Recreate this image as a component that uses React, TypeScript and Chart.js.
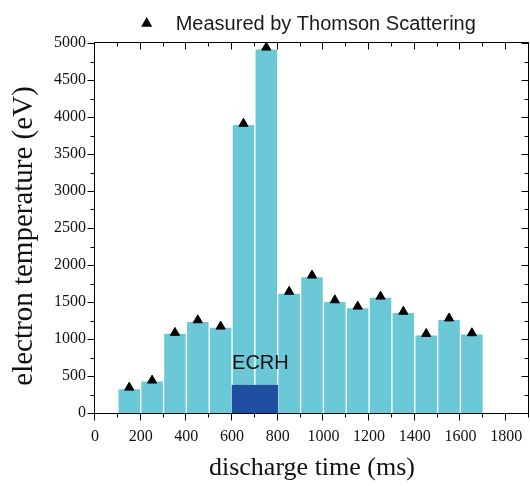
import { useEffect, useRef } from 'react';
import { Chart, registerables } from 'chart.js';

Chart.register(...registerables);

// ---- data ----
const binTimes = [150, 250, 350, 450, 550, 650, 750, 850, 950, 1050, 1150, 1250, 1350, 1450, 1550, 1650];
const binTemps = [330, 435, 1080, 1240, 1160, 3900, 4920, 1620, 1845, 1510, 1425, 1565, 1360, 1055, 1265, 1070];
const thomsonTimes = [150, 250, 350, 450, 550, 650, 750, 850, 950, 1050, 1150, 1250, 1350, 1450, 1550, 1650];
const thomsonTemps = [345, 440, 1085, 1255, 1170, 3910, 4940, 1640, 1860, 1525, 1440, 1575, 1370, 1070, 1280, 1080];
const ecrhTimes = [650, 750];
const ecrhLevel = [375, 375];
const ecrhLabelAt = [600, 600];

const xTickValues = [0, 200, 400, 600, 800, 1000, 1200, 1400, 1600, 1800];
const yTickValues = [0, 500, 1000, 1500, 2000, 2500, 3000, 3500, 4000, 4500, 5000];
const xRange = [0, 1900];
const yRange = [0, 5000];
const xMinorStep = 100;
const yMinorStep = 250;

const legendLabel = 'Measured by Thomson Scattering';
const ecrhLabel = 'ECRH';
const xTitle = 'discharge time (ms)';
const yTitle = 'electron temperature (eV)';

const CYAN = 'rgb(107,200,214)';
const DARK = 'rgb(32,78,160)';
const SERIF = '"Liberation Serif", "Times New Roman", serif';
const SANS = '"Liberation Sans", Arial, sans-serif';

const decorPlugin = {
  id: 'decor',
  afterDraw(chart: any) {
    const { ctx, chartArea: a, scales } = chart;
    const x = scales.x;
    const y = scales.y;
    ctx.save();
    ctx.strokeStyle = '#000';
    ctx.lineWidth = 1;
    const L = Math.round(a.left) - 0.5;
    const R = Math.round(a.right) - 0.5;
    const T = Math.round(a.top) - 0.5;
    const B = Math.round(a.bottom) + 0.5;
    ctx.beginPath();
    ctx.rect(L, T, R - L, B - T);
    ctx.stroke();

    ctx.beginPath();
    for (let v = xRange[0]; v <= xRange[1]; v += xMinorStep) {
      const px = Math.round(x.getPixelForValue(v)) - 0.5;
      const major = v % 200 === 0;
      const len = major ? 7 : 4;
      ctx.moveTo(px, B);
      ctx.lineTo(px, B + len);
      ctx.moveTo(px, T);
      ctx.lineTo(px, T + len);
    }
    for (let v = yRange[0]; v <= yRange[1]; v += yMinorStep) {
      const py = Math.round(y.getPixelForValue(v)) + 0.5;
      const major = v % 500 === 0;
      const len = major ? 7 : 4;
      ctx.moveTo(L - len, py);
      ctx.lineTo(L, py);
      ctx.moveTo(R - len, py);
      ctx.lineTo(R, py);
    }
    ctx.stroke();

    // legend
    ctx.font = `20px ${SANS}`;
    const tw = ctx.measureText(legendLabel).width;
    const r = 6.4;
    const gap = 29;
    const cx = (a.left + a.right) / 2 - 3.5;
    const totalW = r * 0.866 + gap + tw;
    const start = cx - totalW / 2;
    const triX = start + r * 0.866;
    const triY = a.top - 19.5;
    ctx.fillStyle = '#000';
    ctx.beginPath();
    ctx.moveTo(triX, triY - r);
    ctx.lineTo(triX + r * 0.866, triY + r / 2);
    ctx.lineTo(triX - r * 0.866, triY + r / 2);
    ctx.closePath();
    ctx.fill();
    ctx.fillStyle = '#1a1a1a';
    ctx.textAlign = 'left';
    ctx.textBaseline = 'alphabetic';
    ctx.fillText(legendLabel, triX + gap, a.top - 13);

    // ECRH label
    ctx.font = `20px ${SANS}`;
    ctx.fillStyle = '#111';
    ctx.fillText(ecrhLabel, x.getPixelForValue(ecrhLabelAt[0]), y.getPixelForValue(ecrhLabelAt[1]));

    // y axis title
    ctx.font = `29px ${SERIF}`;
    ctx.fillStyle = '#111';
    ctx.textAlign = 'center';
    ctx.textBaseline = 'middle';
    ctx.translate(a.left - 71, (a.top + a.bottom) / 2 + 8);
    ctx.rotate(-Math.PI / 2);
    ctx.fillText(yTitle, 0, 0);
    ctx.restore();
  },
};

export default function App() {
  const ref = useRef<HTMLCanvasElement | null>(null);
  useEffect(() => {
    if (!ref.current) return;
    const chart = new Chart(ref.current, {
      type: 'bar',
      data: {
        datasets: [
          {
            type: 'scatter',
            label: legendLabel,
            data: thomsonTimes.map((t, i) => ({ x: t, y: thomsonTemps[i] })),
            pointStyle: 'triangle',
            pointRadius: 5.3,
            backgroundColor: '#000',
            borderColor: '#000',
            borderWidth: 1,
            order: 0,
            clip: false,
          } as any,
          {
            type: 'bar',
            label: ecrhLabel,
            data: ecrhTimes.map((t, i) => ({ x: t, y: ecrhLevel[i] })),
            backgroundColor: DARK,
            borderWidth: 0,
            grouped: false,
            barPercentage: 1,
            categoryPercentage: 1,
            order: 1,
          } as any,
          {
            type: 'bar',
            label: 'Te',
            data: binTimes.map((t, i) => ({ x: t, y: binTemps[i] })),
            backgroundColor: CYAN,
            borderColor: 'rgba(255,255,255,0.75)',
            borderWidth: 1,
            grouped: false,
            barPercentage: 1,
            categoryPercentage: 1,
            order: 2,
          } as any,
        ],
      },
      options: {
        responsive: false,
        animation: false,
        layout: { autoPadding: false, padding: { top: 43, right: 1, left: 0, bottom: 0 } },
        plugins: { legend: { display: false }, tooltip: { enabled: false } },
        scales: {
          x: {
            type: 'linear',
            min: xRange[0],
            max: xRange[1],
            offset: false,
            grid: { display: false, drawTicks: false },
            border: { display: false },
            afterBuildTicks: (s: any) => {
              s.ticks = xTickValues.map((v) => ({ value: v }));
            },
            afterFit: (s: any) => {
              s.height = 73;
              s.paddingLeft = 0;
              s.paddingRight = 0;
            },
            ticks: {
              autoSkip: false,
              maxRotation: 0,
              padding: 14,
              color: '#111',
              font: { family: SERIF, size: 16 },
              callback: (v: any) => String(v),
            },
            title: {
              display: true,
              text: xTitle,
              color: '#111',
              font: { family: SERIF, size: 26 },
              padding: { top: 0, bottom: 2 },
            },
          },
          y: {
            type: 'linear',
            min: yRange[0],
            max: yRange[1],
            grid: { display: false, drawTicks: false },
            border: { display: false },
            afterBuildTicks: (s: any) => {
              s.ticks = yTickValues.map((v) => ({ value: v }));
            },
            afterFit: (s: any) => {
              s.width = 95;
              s.paddingTop = 0;
              s.paddingBottom = 0;
            },
            ticks: {
              autoSkip: false,
              padding: 9,
              color: '#111',
              font: { family: SERIF, size: 16 },
              callback: (v: any) => String(v),
            },
            title: { display: false, text: yTitle },
          },
        },
      },
      plugins: [decorPlugin],
    });
    return () => chart.destroy();
  }, []);
  return (
    <div style={{ position: 'absolute', left: 0, top: 0, width: 530, height: 486 }}>
      <canvas ref={ref} width={530} height={486} style={{ display: 'block' }} />
    </div>
  );
}
